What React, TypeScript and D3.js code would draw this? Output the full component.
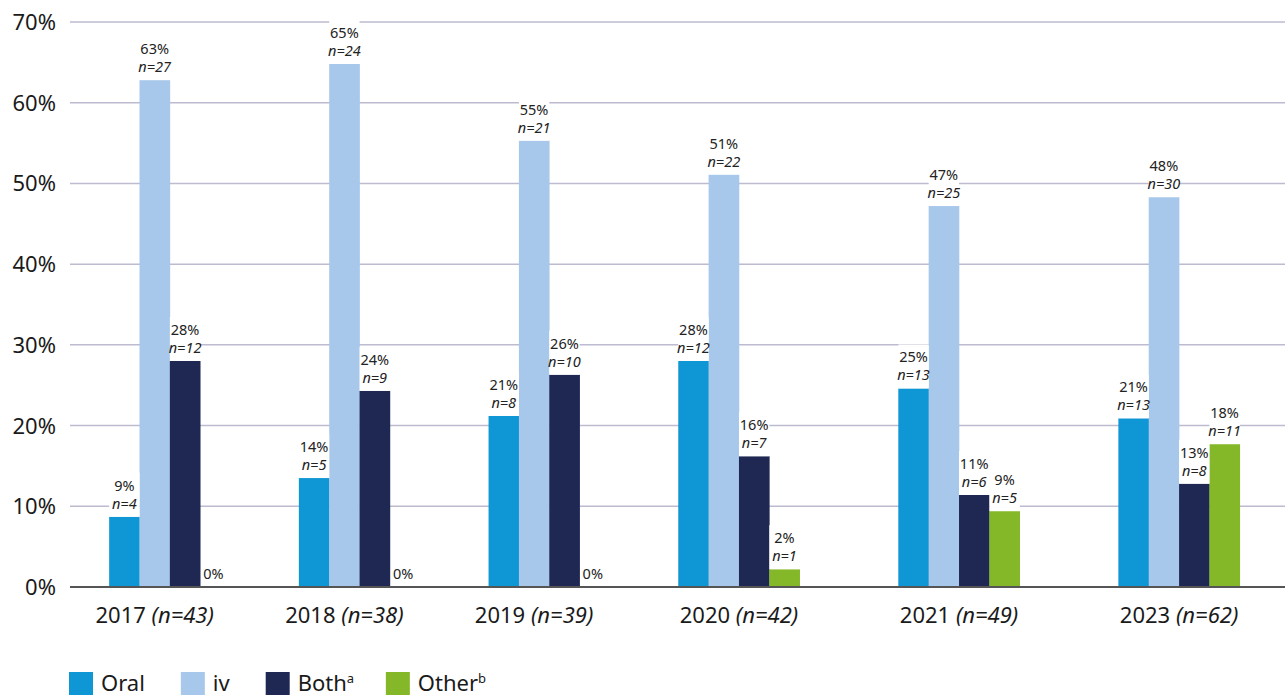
import React from "react";
import * as d3 from "d3";

const years = ["2017", "2018", "2019", "2020", "2021", "2023"];
const yearN = [43, 38, 39, 42, 49, 62];
const seriesNames = ["Oral", "iv", "Both", "Other"];
const seriesSup = ["", "", "a", "b"];
const seriesColors = ["#0F96D4", "#A7C8EA", "#1F2753", "#84B828"];
const oralPct = [8.7, 13.5, 21.2, 28.0, 24.6, 20.9];
const oralN = [4, 5, 8, 12, 13, 13];
const ivPct = [62.8, 64.8, 55.3, 51.1, 47.2, 48.3];
const ivN = [27, 24, 21, 22, 25, 30];
const bothPct = [28.0, 24.3, 26.3, 16.2, 11.4, 12.8];
const bothN = [12, 9, 10, 7, 6, 8];
const otherPct = [0, 0, 0, 2.2, 9.4, 17.7];
const otherN = [0, 0, 0, 1, 5, 11];
const yTicks = [0, 10, 20, 30, 40, 50, 60, 70];

const W = 1285;
const H = 695;
const FONT = "'Noto Sans', sans-serif";

export default function App() {
  const values = [oralPct, ivPct, bothPct, otherPct];
  const counts = [oralN, ivN, bothN, otherN];

  const y = d3.scaleLinear().domain([0, 70]).range([587, 22]);

  // slot-unit layout
  const padL = 1.29, gap = 3.25, padR = 1.49;
  const slotCounts = years.map((_, i) => (otherPct[i] > 0 ? 4 : 3));
  const starts: number[] = [];
  let u = padL;
  slotCounts.forEach((c, i) => {
    starts.push(u);
    u += c + (i < years.length - 1 ? gap : 0);
  });
  const totalUnits = u + padR;
  const x = d3.scaleLinear().domain([0, totalUnits]).range([70, 1285]);
  const slotW = x(1) - x(0);

  // legend layout via text measure
  const canvas = typeof document !== "undefined" ? document.createElement("canvas") : null;
  const ctx = canvas ? canvas.getContext("2d") : null;
  if (ctx) ctx.font = "22px 'Noto Sans'";
  const measure = (s: string) => (ctx ? ctx.measureText(s).width : s.length * 12);
  let lx = 69;
  const legendPos = seriesNames.map((name, i) => {
    const pos = lx;
    lx += 24 + 8 + measure(name) + (seriesSup[i] ? 3 : 0) + 36;
    return pos;
  });

  return (
    <svg
      width={W}
      height={H}
      style={{ position: "absolute", left: 0, top: 0, background: "#fff" }}
      fontFamily={FONT}
    >
      {/* gridlines */}
      {yTicks.slice(1).map((t) => (
        <line key={t} x1={70} x2={W} y1={y(t)} y2={y(t)} stroke="#BDBBD0" strokeWidth={1.5} />
      ))}
      {/* y tick labels */}
      {yTicks.map((t) => (
        <text key={t} x={56} y={y(t) + 8} textAnchor="end" fontSize={22} fill="#1a1a1a">
          {t}%
        </text>
      ))}
      {/* bars */}
      {years.map((yr, i) =>
        values.map((arr, s) => {
          const v = arr[i];
          if (v <= 0) return null;
          const x0 = x(starts[i] + s);
          return (
            <rect key={yr + s} x={x0} y={y(v)} width={slotW + 0.3} height={y(0) - y(v)} fill={seriesColors[s]} />
          );
        })
      )}
      {/* labels */}
      {years.map((yr, i) =>
        values.map((arr, s) => {
          const v = arr[i];
          const x0 = x(starts[i] + s);
          const cx = x0 + slotW / 2;
          if (v <= 0) {
            return (
              <text key={"l" + yr + s} x={cx - 2} y={y(0) - 8} textAnchor="middle" fontSize={14.5} fill="#222">
                0%
              </text>
            );
          }
          const top = y(v);
          return (
            <g key={"l" + yr + s}>
              <rect x={x0} y={top - 44} width={slotW} height={44} fill="#fff" />
              <text x={cx} y={top - 26} textAnchor="middle" fontSize={14.5} fill="#222">
                {Math.round(v)}%
              </text>
              <text x={cx} y={top - 8} textAnchor="middle" fontSize={14.5} fill="#222" fontStyle="italic">
                n={counts[s][i]}
              </text>
            </g>
          );
        })
      )}
      {/* axis line */}
      <line x1={70} x2={W} y1={y(0)} y2={y(0)} stroke="#555" strokeWidth={2} />
      {/* category labels */}
      {years.map((yr, i) => {
        const cx = x(starts[i] + slotCounts[i] / 2);
        return (
          <text key={"c" + yr} x={cx} y={623} textAnchor="middle" fontSize={22} fill="#1a1a1a">
            {yr}{" "}
            <tspan fontStyle="italic">(n={yearN[i]})</tspan>
          </text>
        );
      })}
      {/* legend */}
      {seriesNames.map((name, i) => (
        <g key={"lg" + name}>
          <rect x={legendPos[i]} y={672} width={24} height={24} fill={seriesColors[i]} />
          <text x={legendPos[i] + 32} y={691} fontSize={22} fill="#1a1a1a">
            {name}
            {seriesSup[i] && (
              <tspan fontSize={13} dy={-8}>
                {seriesSup[i]}
              </tspan>
            )}
          </text>
        </g>
      ))}
    </svg>
  );
}
